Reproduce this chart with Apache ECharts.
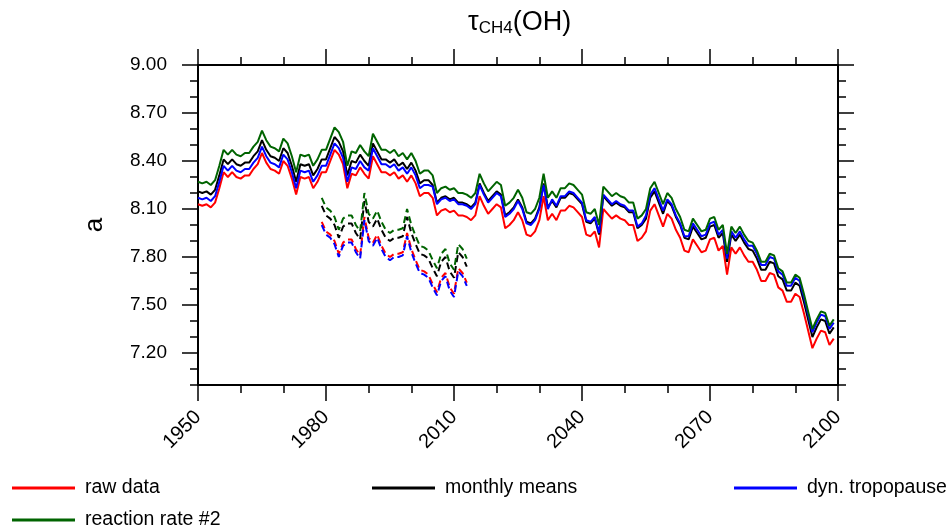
<!DOCTYPE html>
<html>
<head>
<meta charset="utf-8">
<script src="https://cdn.jsdelivr.net/npm/echarts@6/dist/echarts.min.js"></script>
<style>
  html, body { margin: 0; padding: 0; background: #fff; }
  #chart { width: 950px; height: 532px; }
</style>
</head>
<body>
<div id="chart"></div>
<script>
// Annual CH4 lifetime against OH (years), 1950-2099
const years = [];
for (let y = 1950; y <= 2099; y++) years.push(y);
// Shorter specified-dynamics period, 1979-2013
const yearsSD = [];
for (let y = 1979; y <= 2013; y++) yearsSD.push(y);

const rawData = [
  8.13, 8.12, 8.13, 8.11, 8.14, 8.23, 8.33, 8.30, 8.33, 8.30,
  8.29, 8.31, 8.31, 8.35, 8.38, 8.45, 8.39, 8.35, 8.34, 8.32,
  8.40, 8.37, 8.29, 8.19, 8.30, 8.29, 8.30, 8.23, 8.27, 8.33,
  8.33, 8.40, 8.47, 8.44, 8.38, 8.23, 8.32, 8.31, 8.36, 8.32,
  8.29, 8.43, 8.38, 8.33, 8.33, 8.31, 8.33, 8.29, 8.31, 8.27,
  8.31, 8.26, 8.18, 8.20, 8.20, 8.17, 8.06, 8.09, 8.10, 8.08,
  8.09, 8.06, 8.06, 8.05, 8.03, 8.06, 8.18, 8.12, 8.07, 8.10,
  8.13, 8.11, 7.98, 8.00, 8.03, 8.08, 8.03, 7.94, 7.93, 7.96,
  8.03, 8.18, 8.03, 8.07, 8.03, 8.09, 8.09, 8.12, 8.11, 8.08,
  8.05, 7.94, 7.93, 7.96, 7.86, 8.10, 8.07, 8.04, 8.06, 8.04,
  8.03, 8.00, 8.00, 7.90, 7.92, 7.96, 8.09, 8.13, 8.06, 7.99,
  8.07, 8.04, 7.97, 7.92, 7.84, 7.83, 7.91, 7.87, 7.83, 7.84,
  7.91, 7.92, 7.84, 7.87, 7.69, 7.86, 7.82, 7.86, 7.81, 7.77,
  7.77, 7.72, 7.65, 7.65, 7.70, 7.69, 7.61, 7.59, 7.52, 7.52,
  7.57, 7.55, 7.45, 7.34, 7.23, 7.29, 7.34, 7.33, 7.25, 7.29
];
const monthlyMeans = [
  8.21, 8.20, 8.21, 8.19, 8.22, 8.31, 8.41, 8.38, 8.41, 8.38,
  8.37, 8.39, 8.39, 8.43, 8.46, 8.53, 8.47, 8.43, 8.42, 8.40,
  8.48, 8.45, 8.37, 8.27, 8.38, 8.37, 8.38, 8.31, 8.35, 8.41,
  8.41, 8.48, 8.55, 8.52, 8.46, 8.31, 8.40, 8.39, 8.44, 8.40,
  8.37, 8.51, 8.46, 8.41, 8.41, 8.39, 8.41, 8.37, 8.39, 8.35,
  8.39, 8.34, 8.26, 8.28, 8.28, 8.25, 8.14, 8.17, 8.18, 8.16,
  8.17, 8.14, 8.14, 8.13, 8.11, 8.14, 8.26, 8.20, 8.15, 8.18,
  8.21, 8.19, 8.06, 8.08, 8.11, 8.16, 8.11, 8.02, 8.01, 8.04,
  8.11, 8.26, 8.11, 8.15, 8.11, 8.17, 8.17, 8.20, 8.19, 8.16,
  8.13, 8.02, 8.01, 8.04, 7.94, 8.18, 8.15, 8.12, 8.14, 8.12,
  8.11, 8.08, 8.08, 7.98, 8.00, 8.04, 8.17, 8.21, 8.14, 8.07,
  8.15, 8.12, 8.05, 8.00, 7.92, 7.91, 7.99, 7.95, 7.91, 7.92,
  7.99, 8.00, 7.92, 7.95, 7.77, 7.94, 7.90, 7.94, 7.89, 7.85,
  7.84, 7.79, 7.72, 7.72, 7.77, 7.76, 7.68, 7.66, 7.59, 7.59,
  7.64, 7.62, 7.52, 7.41, 7.30, 7.36, 7.41, 7.40, 7.32, 7.36
];
const dynTropopause = [
  8.17, 8.16, 8.17, 8.15, 8.18, 8.27, 8.37, 8.34, 8.37, 8.34,
  8.33, 8.35, 8.35, 8.39, 8.42, 8.49, 8.43, 8.39, 8.38, 8.36,
  8.44, 8.41, 8.33, 8.23, 8.34, 8.33, 8.34, 8.27, 8.31, 8.37,
  8.37, 8.44, 8.51, 8.48, 8.42, 8.27, 8.36, 8.35, 8.40, 8.36,
  8.34, 8.48, 8.43, 8.38, 8.38, 8.36, 8.38, 8.34, 8.36, 8.32,
  8.36, 8.31, 8.23, 8.25, 8.25, 8.24, 8.13, 8.16, 8.17, 8.15,
  8.16, 8.13, 8.13, 8.12, 8.10, 8.13, 8.25, 8.19, 8.14, 8.17,
  8.20, 8.18, 8.05, 8.07, 8.10, 8.15, 8.10, 8.01, 8.00, 8.03,
  8.10, 8.25, 8.10, 8.16, 8.12, 8.18, 8.18, 8.21, 8.20, 8.17,
  8.14, 8.03, 8.02, 8.05, 7.95, 8.19, 8.16, 8.13, 8.15, 8.13,
  8.12, 8.09, 8.09, 7.99, 8.01, 8.06, 8.19, 8.23, 8.16, 8.09,
  8.16, 8.13, 8.06, 8.01, 7.93, 7.93, 8.01, 7.97, 7.93, 7.94,
  8.01, 8.02, 7.94, 7.97, 7.79, 7.96, 7.92, 7.96, 7.91, 7.87,
  7.87, 7.82, 7.75, 7.75, 7.80, 7.79, 7.71, 7.69, 7.62, 7.62,
  7.67, 7.65, 7.55, 7.44, 7.33, 7.39, 7.44, 7.43, 7.35, 7.39
];
const reactionRate2 = [
  8.27, 8.26, 8.27, 8.25, 8.28, 8.37, 8.47, 8.44, 8.47, 8.44,
  8.43, 8.45, 8.45, 8.49, 8.52, 8.59, 8.53, 8.49, 8.48, 8.46,
  8.54, 8.51, 8.43, 8.33, 8.44, 8.43, 8.44, 8.37, 8.41, 8.47,
  8.47, 8.54, 8.61, 8.58, 8.52, 8.37, 8.46, 8.45, 8.50, 8.46,
  8.43, 8.57, 8.52, 8.47, 8.47, 8.45, 8.47, 8.43, 8.45, 8.41,
  8.45, 8.40, 8.32, 8.34, 8.34, 8.31, 8.20, 8.23, 8.24, 8.22,
  8.23, 8.20, 8.20, 8.19, 8.17, 8.20, 8.32, 8.26, 8.21, 8.24,
  8.27, 8.25, 8.12, 8.14, 8.17, 8.22, 8.17, 8.08, 8.07, 8.10,
  8.17, 8.32, 8.17, 8.21, 8.17, 8.23, 8.23, 8.26, 8.25, 8.22,
  8.19, 8.08, 8.07, 8.10, 8.00, 8.24, 8.21, 8.18, 8.20, 8.18,
  8.17, 8.14, 8.14, 8.04, 8.06, 8.10, 8.23, 8.27, 8.20, 8.13,
  8.20, 8.17, 8.10, 8.05, 7.97, 7.96, 8.04, 8.00, 7.96, 7.97,
  8.04, 8.05, 7.97, 8.00, 7.82, 7.99, 7.95, 7.99, 7.94, 7.90,
  7.89, 7.84, 7.77, 7.77, 7.82, 7.81, 7.73, 7.71, 7.64, 7.64,
  7.69, 7.67, 7.57, 7.46, 7.35, 7.41, 7.46, 7.45, 7.37, 7.41
];

// Specified-dynamics run (dashed)
const rawDataSD = [
  8.02, 7.96, 7.94, 7.90, 7.82, 7.89, 7.91, 7.91, 7.85, 7.81,
  8.05, 7.92, 7.89, 7.94, 7.87, 7.82, 7.80, 7.82, 7.82, 7.83,
  7.95, 7.85, 7.78, 7.72, 7.71, 7.69, 7.63, 7.58, 7.67, 7.70,
  7.61, 7.57, 7.73, 7.70, 7.64
];
const monthlyMeansSD = [
  8.12, 8.06, 8.04, 8.00, 7.92, 7.99, 8.01, 8.01, 7.95, 7.91,
  8.15, 8.02, 7.99, 8.04, 7.97, 7.92, 7.90, 7.92, 7.92, 7.93,
  8.05, 7.95, 7.88, 7.82, 7.81, 7.79, 7.73, 7.68, 7.77, 7.80,
  7.71, 7.67, 7.83, 7.80, 7.74
];
const dynTropopauseSD = [
  8.00, 7.94, 7.92, 7.88, 7.80, 7.87, 7.89, 7.89, 7.83, 7.79,
  8.03, 7.90, 7.87, 7.92, 7.85, 7.80, 7.78, 7.80, 7.80, 7.81,
  7.93, 7.83, 7.76, 7.70, 7.69, 7.67, 7.61, 7.56, 7.65, 7.68,
  7.59, 7.55, 7.71, 7.68, 7.62
];
const reactionRate2SD = [
  8.17, 8.11, 8.09, 8.05, 7.97, 8.04, 8.06, 8.06, 8.00, 7.96,
  8.20, 8.07, 8.04, 8.09, 8.02, 7.97, 7.95, 7.97, 7.97, 7.98,
  8.10, 8.00, 7.93, 7.87, 7.86, 7.84, 7.78, 7.73, 7.82, 7.85,
  7.76, 7.72, 7.88, 7.85, 7.79
];

const yMajorTicks = [7.2, 7.5, 7.8, 8.1, 8.4, 8.7, 9.0];
const seriesNames = ['raw data', 'monthly means', 'dyn. tropopause', 'reaction rate #2'];
const seriesColors = ['#ff0000', '#000000', '#0000ff', '#006400'];

const FONT = '"Liberation Sans", Arial, Helvetica, sans-serif';

function pairs(xs, ys) { return xs.map((x, i) => [x, ys[i]]); }

const solid = [rawData, monthlyMeans, dynTropopause, reactionRate2];
const dashed = [rawDataSD, monthlyMeansSD, dynTropopauseSD, reactionRate2SD];

const series = [];
solid.forEach((vals, i) => {
  series.push({
    name: seriesNames[i], type: 'line', data: pairs(years, vals),
    showSymbol: false, symbol: 'none', color: seriesColors[i],
    itemStyle: { color: seriesColors[i] },
    lineStyle: { color: seriesColors[i], width: 2 }, z: 2 + i
  });
});
dashed.forEach((vals, i) => {
  series.push({
    name: seriesNames[i], type: 'line', data: pairs(yearsSD, vals),
    showSymbol: false, symbol: 'none', color: seriesColors[i],
    itemStyle: { color: seriesColors[i] },
    lineStyle: { color: seriesColors[i], width: 2, type: [7, 4] }, z: 2 + i
  });
});

const axisLineStyle = { color: '#000', width: 2 };
const xCommon = {
  type: 'value', min: 1950, max: 2100, interval: 30,
  splitLine: { show: false },
  axisLine: { show: true, lineStyle: axisLineStyle, onZero: false },
  axisTick: { show: true, inside: false, length: 16, lineStyle: { color: '#000', width: 1.5 } },
  minorTick: { show: true, splitNumber: 3, length: 8, lineStyle: { color: '#000', width: 1.5 } }
};
const yBase = { type: 'value', min: 7.0, max: 9.0, splitLine: { show: false } };

const legendCommon = {
  icon: 'rect', itemWidth: 63, itemHeight: 3, padding: 0, selectedMode: false,
  textStyle: { fontSize: 19.5, color: '#000', fontFamily: FONT, padding: [0, 0, 0, 5] }
};

const option = {
  animation: false,
  backgroundColor: '#fff',
  title: {
    text: '{t|τ}{s|CH4}{t|(OH)}',
    left: 463, top: 4,
    textStyle: {
      rich: {
        t: { fontSize: 27, fontWeight: 'normal', fontFamily: FONT, color: '#000' },
        s: { fontSize: 17, fontWeight: 'normal', fontFamily: FONT, color: '#000', padding: [11, 0, 0, 0] }
      }
    }
  },
  legend: [
    Object.assign({ data: ['raw data'], left: 12, top: 478 }, legendCommon),
    Object.assign({ data: ['monthly means'], left: 372, top: 478 }, legendCommon),
    Object.assign({ data: ['dyn. tropopause'], left: 734, top: 478 }, legendCommon),
    Object.assign({ data: ['reaction rate #2'], left: 12, top: 510 }, legendCommon)
  ],
  grid: { left: 198, right: 112, top: 65, bottom: 147, containLabel: false },
  xAxis: [
    Object.assign({}, xCommon, {
      position: 'bottom',
      axisLabel: {
        rotate: 45, margin: 29, fontSize: 20, color: '#000', fontFamily: FONT,
        formatter: v => String(v)
      }
    }),
    Object.assign({}, xCommon, { position: 'top', axisLabel: { show: false } })
  ],
  yAxis: [
    Object.assign({}, yBase, {
      position: 'left', interval: 0.1,
      name: 'a', nameLocation: 'middle', nameGap: 90,
      nameTextStyle: { fontSize: 26, color: '#000', fontFamily: FONT },
      axisLine: { show: true, lineStyle: axisLineStyle },
      axisTick: { show: true, inside: false, length: 8, lineStyle: { color: '#000', width: 1.5 } },
      axisLabel: {
        show: true, customValues: yMajorTicks, margin: 31, fontSize: 19, color: '#000',
        fontFamily: FONT, formatter: v => v.toFixed(2)
      }
    }),
    Object.assign({}, yBase, {
      position: 'left', interval: 0.1,
      axisLine: { show: false },
      axisTick: { show: true, inside: false, length: 16, customValues: yMajorTicks, lineStyle: { color: '#000', width: 1.5 } },
      axisLabel: { show: false }
    }),
    Object.assign({}, yBase, {
      position: 'right', interval: 0.1,
      axisLine: { show: true, lineStyle: axisLineStyle },
      axisTick: { show: true, inside: false, length: 8, lineStyle: { color: '#000', width: 1.5 } },
      axisLabel: { show: false }
    }),
    Object.assign({}, yBase, {
      position: 'right', interval: 0.1,
      axisLine: { show: false },
      axisTick: { show: true, inside: false, length: 16, customValues: yMajorTicks, lineStyle: { color: '#000', width: 1.5 } },
      axisLabel: { show: false }
    })
  ],
  series: series
};

const chart = echarts.init(document.getElementById('chart'), null, { renderer: 'canvas' });
chart.setOption(option);
</script>
</body>
</html>
